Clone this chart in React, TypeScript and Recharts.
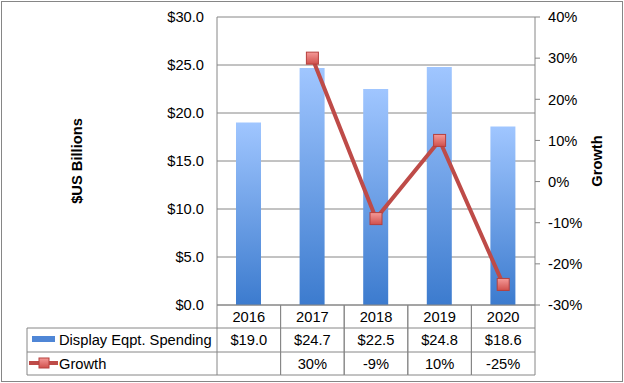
import React from "react";
import {
  ComposedChart,
  Bar,
  Line,
  XAxis,
  YAxis,
  CartesianGrid,
} from "recharts";

const years = ["2016", "2017", "2018", "2019", "2020"];
const spending = [19.0, 24.7, 22.5, 24.8, 18.6];
const growth: (number | null)[] = [null, 30, -9, 10, -25];
const spendingTicks = [0, 5, 10, 15, 20, 25, 30];
const growthTicks = [-30, -20, -10, 0, 10, 20, 30, 40];

const data = years.map((year, i) => ({
  year,
  spending: spending[i],
  growth: growth[i],
}));

const FONT = "'Liberation Sans', Arial, sans-serif";
const FS = 14.7;
const GRID = "#868686";
const PLOT_LEFT = 217;
const PLOT_RIGHT = 535;
const PLOT_BOTTOM = 305;
const BAND = (PLOT_RIGHT - PLOT_LEFT) / years.length;
const ROW1 = 328;
const ROW2 = 352;
const ROW3 = 375;

const money = (v: number) => `$${v.toFixed(1)}`;
const pct = (v: number) => `${v}%`;

// x axis tick doubles as a column of the data table
const TableTick = (props: any) => {
  const { x, payload } = props;
  const i = years.indexOf(payload.value);
  const l = x - BAND / 2;
  const r = x + BAND / 2;
  const g = growth[i];
  return (
    <g>
      <line x1={l} y1={PLOT_BOTTOM} x2={l} y2={ROW3} stroke={GRID} />
      <line x1={r} y1={PLOT_BOTTOM} x2={r} y2={ROW3} stroke={GRID} />
      <line x1={l} y1={ROW1} x2={r} y2={ROW1} stroke={GRID} />
      <line x1={l} y1={ROW2} x2={r} y2={ROW2} stroke={GRID} />
      <line x1={l} y1={ROW3} x2={r} y2={ROW3} stroke={GRID} />
      <text x={x} y={322} textAnchor="middle" fontSize={FS} fill="#000">
        {payload.value}
      </text>
      <text x={x} y={345} textAnchor="middle" fontSize={FS} fill="#000">
        {money(spending[i])}
      </text>
      {g !== null && (
        <text x={x} y={369} textAnchor="middle" fontSize={FS} fill="#000">
          {pct(g)}
        </text>
      )}
    </g>
  );
};

const SquareDot = (props: any) => {
  const { cx, cy, value } = props;
  if (value === null || value === undefined || cx == null || cy == null) return null;
  return (
    <rect
      x={cx - 6}
      y={cy - 6}
      width={12}
      height={12}
      fill="url(#dotFill)"
      stroke="#B6403D"
      strokeWidth={1}
    />
  );
};

const App: React.FC = () => {
  return (
    <div
      style={{
        position: "absolute",
        left: 0,
        top: 0,
        width: 624,
        height: 383,
        fontFamily: FONT,
        background: "#fff",
      }}
    >
      <div
        style={{
          position: "absolute",
          left: 1,
          top: 1,
          width: 622,
          height: 381,
          boxSizing: "border-box",
          border: `1px solid ${GRID}`,
        }}
      />
      <ComposedChart
        width={624}
        height={383}
        data={data}
        margin={{ top: 17, right: 8, bottom: 8, left: 8 }}
        style={{ position: "absolute", left: 0, top: 0, fontFamily: FONT }}
      >
        <defs>
          <linearGradient id="barFill" x1="0" y1="0" x2="0" y2="1">
            <stop offset="0%" stopColor="#A0C6FF" />
            <stop offset="100%" stopColor="#3C7BCE" />
          </linearGradient>
          <linearGradient id="dotFill" x1="0" y1="0" x2="0" y2="1">
            <stop offset="0%" stopColor="#F59A98" />
            <stop offset="100%" stopColor="#D0504C" />
          </linearGradient>
        </defs>
        <CartesianGrid vertical={false} stroke={GRID} yAxisId="left" />
        <XAxis
          dataKey="year"
          height={70}
          tickLine={false}
          axisLine={{ stroke: GRID }}
          tick={<TableTick />}
          interval={0}
        />
        <YAxis
          yAxisId="left"
          width={209}
          domain={[0, 30]}
          ticks={spendingTicks}
          tickFormatter={money}
          tickSize={0}
          tickMargin={13}
          axisLine={{ stroke: GRID }}
          tick={{ fill: "#000", fontSize: FS }}
          label={{
            value: "$US Billions",
            angle: -90,
            position: "insideLeft",
            offset: 69,
            style: { textAnchor: "middle", fontWeight: "bold", fontSize: FS, fill: "#000" },
          }}
        />
        <YAxis
          yAxisId="right"
          orientation="right"
          width={81}
          domain={[-30, 40]}
          ticks={growthTicks}
          tickFormatter={pct}
          tickSize={5}
          tickMargin={8}
          tickLine={{ stroke: GRID }}
          axisLine={{ stroke: GRID }}
          tick={{ fill: "#000", fontSize: FS, textAnchor: "start" }}
          label={{
            value: "Growth",
            angle: -90,
            position: "insideRight",
            offset: 19,
            style: { textAnchor: "middle", fontWeight: "bold", fontSize: FS, fill: "#000" },
          }}
        />
        <Bar
          yAxisId="left"
          dataKey="spending"
          barSize={25}
          fill="url(#barFill)"
          isAnimationActive={false}
        />
        <Line
          yAxisId="right"
          dataKey="growth"
          stroke="#BE4B48"
          strokeWidth={4}
          dot={<SquareDot />}
          activeDot={false}
          isAnimationActive={false}
        />
      </ComposedChart>
      <svg
        width={624}
        height={383}
        style={{ position: "absolute", left: 0, top: 0, pointerEvents: "none" }}
      >
        <defs>
          <linearGradient id="legendDot" x1="0" y1="0" x2="0" y2="1">
            <stop offset="0%" stopColor="#F59A98" />
            <stop offset="100%" stopColor="#D0504C" />
          </linearGradient>
        </defs>
        <line x1={27} y1={ROW1} x2={PLOT_LEFT} y2={ROW1} stroke={GRID} />
        <line x1={27} y1={ROW2} x2={PLOT_LEFT} y2={ROW2} stroke={GRID} />
        <line x1={27} y1={ROW3} x2={PLOT_LEFT} y2={ROW3} stroke={GRID} />
        <line x1={27} y1={ROW1} x2={27} y2={ROW3} stroke={GRID} />
        <rect x={32} y={336} width={23} height={6} fill="#4F86D6" />
        <text x={59} y={345} fontSize={FS} fill="#000" fontFamily={FONT}>
          Display Eqpt. Spending
        </text>
        <line x1={29} y1={363} x2={58} y2={363} stroke="#BE4B48" strokeWidth={4} />
        <rect x={39} y={358} width={10} height={10} fill="url(#legendDot)" stroke="#B6403D" />
        <text x={59} y={369} fontSize={FS} fill="#000" fontFamily={FONT}>
          Growth
        </text>
      </svg>
    </div>
  );
};

export default App;
